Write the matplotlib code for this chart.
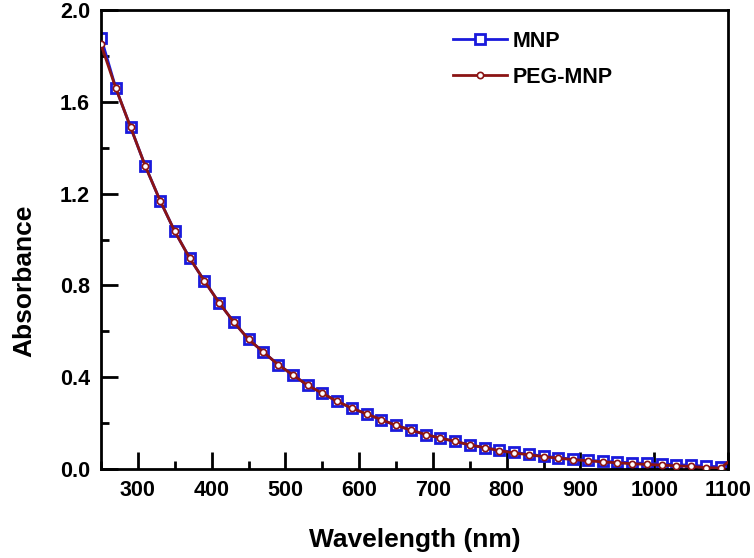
import matplotlib
matplotlib.use('Agg')
import matplotlib.pyplot as plt
from matplotlib.ticker import MultipleLocator

plt.rcParams['font.family'] = ['Liberation Sans', 'DejaVu Sans']
plt.rcParams['font.weight'] = 'bold'

# wavelength (nm), sampled every 20 nm
wavelength = [250, 270, 290, 310, 330, 350, 370, 390, 410, 430,
              450, 470, 490, 510, 530, 550, 570, 590, 610, 630,
              650, 670, 690, 710, 730, 750, 770, 790, 810, 830,
              850, 870, 890, 910, 930, 950, 970, 990, 1010, 1030,
              1050, 1070, 1090]
mnp = [1.88, 1.66, 1.49, 1.32, 1.17, 1.035, 0.92, 0.82, 0.725, 0.64,
       0.565, 0.51, 0.455, 0.41, 0.365, 0.33, 0.295, 0.265, 0.24, 0.215,
       0.19, 0.17, 0.15, 0.135, 0.12, 0.105, 0.093, 0.082, 0.072, 0.064,
       0.056, 0.049, 0.043, 0.038, 0.034, 0.030, 0.027, 0.024, 0.022, 0.019,
       0.016, 0.012, 0.010]
peg_mnp = [1.85, 1.66, 1.49, 1.32, 1.17, 1.035, 0.92, 0.82, 0.725, 0.64,
           0.565, 0.51, 0.455, 0.41, 0.365, 0.33, 0.295, 0.265, 0.24, 0.215,
           0.19, 0.17, 0.15, 0.135, 0.12, 0.105, 0.093, 0.08, 0.07, 0.062,
           0.054, 0.047, 0.041, 0.036, 0.031, 0.027, 0.023, 0.02, 0.017, 0.014,
           0.011, 0.006, 0.004]
peg_tail_x = [1100]
peg_tail_y = [0.03]

BLUE = '#1a1adc'
RED = '#8b1414'

fig = plt.figure(figsize=(7.54, 5.58), dpi=100)
ax = fig.add_axes([0.134, 0.1595, 0.8315, 0.8225])

ax.plot(wavelength, mnp, color=BLUE, lw=2, marker='s', ms=7,
        mfc='white', mec=BLUE, mew=2, label='MNP', zorder=2)
ax.plot(wavelength + peg_tail_x, peg_mnp + peg_tail_y, color=RED, lw=2,
        marker='o', ms=4.5, mfc='white', mec=RED, mew=1.2,
        markevery=list(range(len(wavelength))), label='PEG-MNP', zorder=3)

ax.set_xlim(250, 1100)
ax.set_ylim(0, 2.0)
ax.xaxis.set_major_locator(MultipleLocator(100))
ax.xaxis.set_minor_locator(MultipleLocator(50))
ax.yaxis.set_major_locator(MultipleLocator(0.4))
ax.yaxis.set_minor_locator(MultipleLocator(0.2))
ax.set_yticklabels([f'{v:.1f}' for v in ax.get_yticks()])

ax.tick_params(which='major', direction='in', length=12, width=2,
               labelsize=15.5, pad=8)
ax.tick_params(which='minor', direction='in', length=6, width=2)
for s in ax.spines.values():
    s.set_linewidth(2)

ax.set_xlabel('Wavelength (nm)', fontsize=19, fontweight='bold')
ax.set_ylabel('Absorbance', fontsize=19, fontweight='bold')
ax.xaxis.set_label_coords(0.5, -0.128)
ax.yaxis.set_label_coords(-0.103, 0.41)

ax.legend(loc='upper left', bbox_to_anchor=(0.561, 0.955), frameon=False,
          fontsize=15.5, handlelength=2.5, handletextpad=0.3, labelspacing=0.7,
          borderpad=0, borderaxespad=0)

plt.savefig('out.png', dpi=100)
